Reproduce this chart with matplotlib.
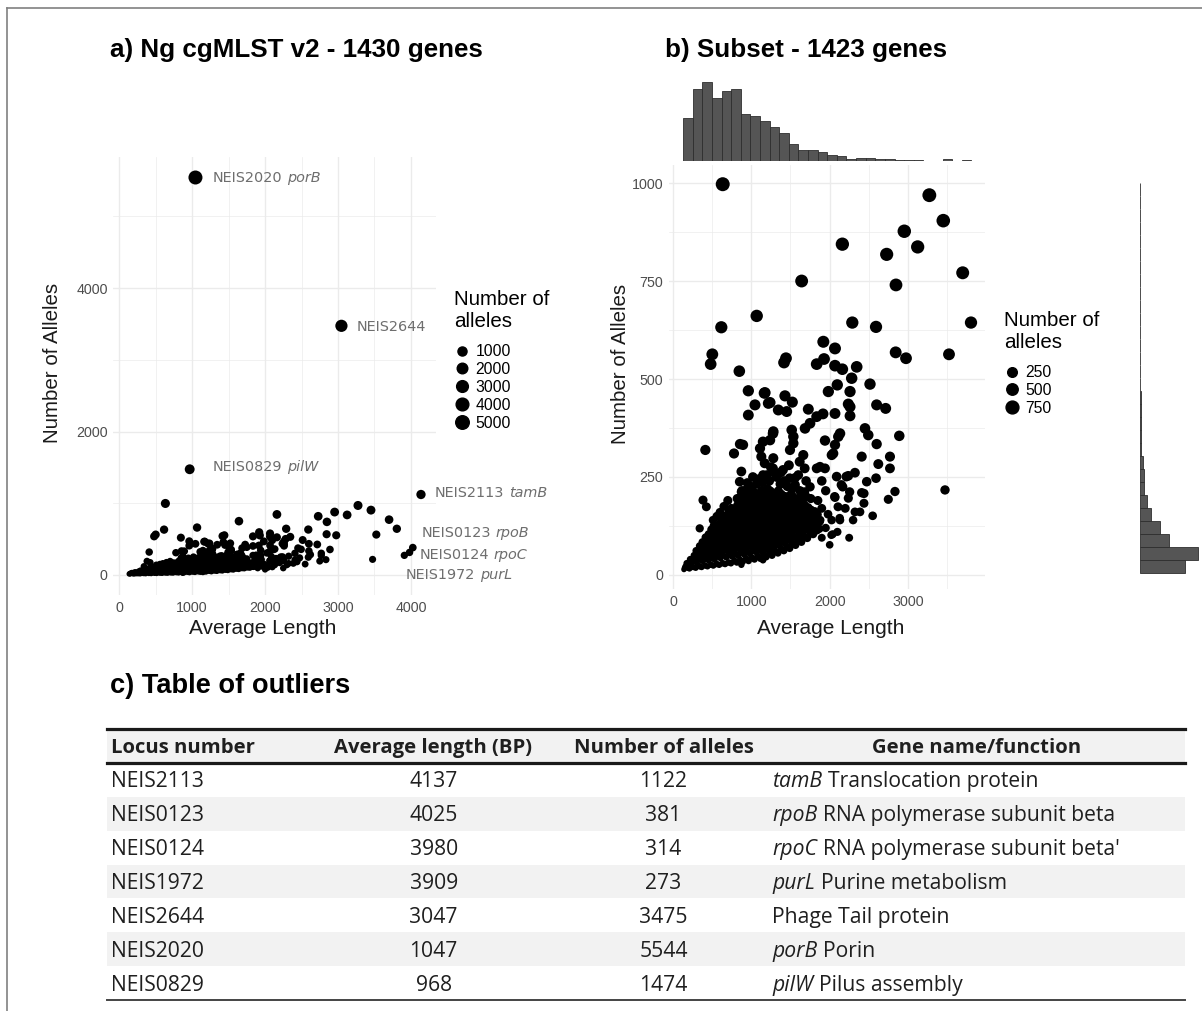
import numpy as np
import matplotlib
matplotlib.use('Agg')
import matplotlib.pyplot as plt
from matplotlib.lines import Line2D

plt.rcParams['font.family'] = ['Liberation Sans', 'DejaVu Sans']

# ---- outliers (table c) ----
out_locus = ['NEIS2113', 'NEIS0123', 'NEIS0124', 'NEIS1972', 'NEIS2644', 'NEIS2020', 'NEIS0829']
out_len = [4137, 4025, 3980, 3909, 3047, 1047, 968]
out_alleles = [1122, 381, 314, 273, 3475, 5544, 1474]
out_gene = ['tamB', 'rpoB', 'rpoC', 'purL', '', 'porB', 'pilW']
out_function = ['Translocation protein', 'RNA polymerase subunit beta',
                "RNA polymerase subunit beta'", 'Purine metabolism',
                'Phage Tail protein', 'Porin', 'Pilus assembly']

# ---- subset genes, average length ----
sub_len = [
    140, 160, 175, 150,
    210, 230, 220, 240,
    290, 300, 310, 295, 320,
    365, 380, 370, 385, 375,
    440, 455, 450, 460, 445, 455,
    515, 530, 520, 535, 525, 530, 520,
    590, 605, 600, 610, 595, 605, 600,
    665, 680, 670, 685, 675, 680, 670, 685,
    740, 755, 750, 760, 745, 755, 750, 760, 745,
    815, 830, 820, 835, 825, 830, 820, 835, 825,
    890, 905, 900, 910, 895, 905, 900, 910, 895, 905,
    965, 980, 970, 985, 975, 980, 970, 985, 975, 980,
    1040, 1055, 1050, 1060, 1045, 1055, 1050, 1060, 1045, 1055,
    1115, 1130, 1120, 1135, 1125, 1130, 1120, 1135, 1125, 1130,
    1190, 1205, 1200, 1210, 1195, 1205, 1200, 1210, 1195, 1205,
    1265, 1280, 1270, 1285, 1275, 1280, 1270, 1285, 1275,
    1340, 1355, 1350, 1360, 1345, 1355, 1350, 1360, 1345,
    1415, 1430, 1420, 1435, 1425, 1430, 1420, 1435,
    1490, 1505, 1500, 1510, 1495, 1505, 1500, 1510,
    1565, 1580, 1570, 1585, 1575, 1580, 1570,
    1640, 1655, 1650, 1660, 1645, 1655,
    1715, 1730, 1720, 1735, 1725,
    1790, 1805, 1800, 1810,
    1870, 1880,
    # between the columns above
    190, 195,
    265, 260, 270,
    340, 335, 345, 340,
    410, 415, 405, 410, 415,
    485, 480, 490, 485, 480, 490,
    560, 565, 555, 560, 565, 555,
    635, 630, 640, 635, 630, 640, 635,
    710, 715, 705, 710, 715, 705, 710, 715,
    785, 780, 790, 785, 780, 790, 785, 780,
    860, 865, 855, 860, 865, 855, 860, 865, 855,
    935, 930, 940, 935, 930, 940, 935, 930, 940,
    1010, 1015, 1005, 1010, 1015, 1005, 1010, 1015, 1005,
    1085, 1080, 1090, 1085, 1080, 1090, 1085, 1080, 1090,
    1160, 1165, 1155, 1160, 1165, 1155, 1160, 1165, 1155,
    1235, 1230, 1240, 1235, 1230, 1240, 1235, 1230, 1240,
    1310, 1315, 1305, 1310, 1315, 1305, 1310, 1315,
    1385, 1380, 1390, 1385, 1380, 1390, 1385, 1380,
    1460, 1465, 1455, 1460, 1465, 1455, 1460,
    1535, 1530, 1540, 1535, 1530, 1540, 1535,
    1610, 1615, 1605, 1610, 1615, 1605,
    1685, 1680, 1690, 1685, 1680,
    1760, 1765, 1755, 1760,
    1840, 1835, 1845,
    # fringe of the dense cloud
    820, 880, 940, 1010, 1070, 1140, 1230, 1290, 1370, 1460, 1530, 1620,
    1680, 1760, 1380, 1250, 1150, 1480, 1560, 1640,
    1950, 2100, 2200, 2300, 1900, 2250,
    # high
    635, 3274, 3452, 2954, 3125, 2163, 2729, 3700, 2848, 1643, 1069, 617,
    2290, 2593, 3806, 1920, 2069, 502, 481, 847, 2844, 2976, 3525, 1443,
    1418, 1835, 1929, 2069, 2163, 2346, 2282, 2516, 2098,
    # middle
    1984, 2261, 1175, 1430, 1524, 1239, 1345, 1728, 2239, 2601, 2716, 2069,
    2261, 1835, 1916, 1750, 1686, 1516, 1537, 1537, 1494, 1281, 1239, 2133,
    2111, 1941, 2069, 2452, 2494, 2890, 2601, 2027, 2410, 2771, 1664, 2622,
    2771, 1877, 962, 962, 1166, 1047, 1452, 1218, 413, 779, 894, 856,
    1149, 1277, 1128, 1171, 1277, 1405, 1618, 1682, 1281, 1111, 1835, 1941,
    2047, 2261,
    # lower
    2090, 2239, 2324, 2593, 2474, 3474, 2835, 2410, 2167, 2214, 2150, 2256,
    2065, 2107, 2129, 1767, 1873, 1831, 2022, 2001, 2039, 1801, 2026, 2133,
    2324, 2388, 2550, 2439, 2439, 2239, 2069, 2750, 383, 426, 341, 511,
    873, 851, 873, 1490, 1000, 1086, 1149, 873,
    950, 1020, 1100, 1200, 1320, 1420, 1560, 1600, 1700, 1750, 1900, 1950,
    1850, 1700, 1900, 1980, 600, 650, 700, 560,
]

# ---- subset genes, number of alleles ----
sub_alleles = [
    14, 22, 30, 18,
    16, 28, 40, 20,
    18, 33, 48, 62, 25,
    20, 36, 52, 68, 84,
    22, 38, 55, 72, 90, 104,
    24, 40, 58, 75, 92, 110, 125,
    26, 44, 62, 80, 98, 115, 132,
    28, 46, 64, 82, 100, 118, 136, 152,
    30, 48, 66, 84, 102, 120, 138, 156, 170,
    32, 50, 70, 88, 106, 124, 142, 160, 178,
    34, 54, 72, 90, 110, 128, 146, 164, 182, 198,
    36, 56, 76, 94, 112, 132, 150, 168, 186, 204,
    40, 60, 80, 98, 118, 136, 156, 174, 192, 208,
    42, 62, 82, 102, 122, 140, 160, 178, 198, 214,
    46, 66, 86, 106, 126, 146, 164, 184, 202, 220,
    50, 70, 90, 110, 130, 150, 170, 190, 208,
    56, 76, 96, 116, 136, 156, 176, 196, 214,
    62, 82, 102, 122, 142, 162, 182, 200,
    68, 88, 108, 128, 148, 168, 188, 206,
    76, 96, 116, 136, 156, 176, 194,
    84, 104, 124, 144, 164, 184,
    94, 114, 134, 154, 172,
    104, 124, 144, 162,
    118, 140,
    # between the columns above
    18, 30,
    20, 36, 50,
    22, 40, 58, 74,
    24, 44, 62, 80, 96,
    26, 48, 66, 84, 100, 116,
    28, 50, 70, 88, 106, 122,
    30, 52, 72, 90, 108, 126, 144,
    32, 56, 74, 92, 112, 128, 146, 162,
    36, 58, 78, 96, 114, 132, 150, 168,
    38, 60, 80, 98, 116, 134, 152, 170, 188,
    42, 64, 84, 102, 120, 140, 158, 176, 192,
    44, 68, 88, 108, 126, 146, 164, 182, 200,
    48, 70, 90, 110, 130, 148, 168, 186, 204,
    52, 74, 94, 114, 134, 152, 172, 190, 208,
    56, 78, 98, 118, 138, 158, 178, 196, 214,
    60, 82, 102, 122, 142, 162, 182, 200,
    66, 88, 108, 128, 148, 168, 188, 206,
    72, 94, 114, 134, 154, 174, 194,
    80, 100, 120, 140, 160, 180, 198,
    88, 108, 128, 148, 168, 188,
    96, 118, 138, 158, 178,
    106, 126, 146, 166,
    114, 134, 154,
    # fringe of the dense cloud
    195, 215, 218, 225, 232, 236, 240, 262, 232, 226, 222, 215,
    212, 195, 262, 275, 255, 280, 248, 205,
    120, 110, 170, 140, 95, 95,
    # high
    997, 969, 904, 877, 837, 844, 818, 771, 740, 750, 661, 632,
    644, 633, 644, 595, 578, 563, 538, 520, 568, 553, 563, 553,
    542, 538, 551, 534, 525, 531, 502, 487, 485,
    # middle
    468, 468, 465, 457, 441, 440, 421, 423, 436, 434, 425, 412,
    406, 404, 411, 387, 374, 370, 353, 336, 319, 366, 344, 361,
    353, 343, 332, 374, 357, 355, 334, 306, 302, 302, 306, 283,
    272, 276, 470, 408, 464, 434, 417, 438, 319, 310, 332, 334,
    340, 361, 302, 285, 272, 268, 289, 272, 298, 323, 272, 272,
    310, 429,
    # lower
    251, 253, 261, 247, 238, 217, 213, 210, 225, 251, 230, 212,
    200, 174, 145, 149, 136, 115, 102, 77, 104, 110, 140, 140,
    161, 161, 151, 183, 208, 196, 198, 193, 191, 174, 119, 140,
    264, 238, 212, 247, 191, 166, 38, 26,
    235, 250, 245, 255, 250, 240, 230, 255, 240, 225, 240, 215,
    190, 200, 170, 155, 160, 175, 190, 150,
]

# marginal histograms of the 1423 subset genes (30 bins each)
len_hist_counts = [91, 152, 168, 134, 148, 152, 100, 95, 84, 72, 59, 37, 23, 23, 19,
                   12, 10, 5, 7, 6, 4, 4, 2, 2, 2, 1, 1, 4, 1, 3]
allele_hist_counts = [329, 427, 215, 151, 78, 49, 29, 29, 20, 10, 7, 6, 5, 4, 3,
                      3, 2, 2, 2, 1, 2, 1, 1, 1, 0, 1, 1, 1, 0, 1]

legend_a = [1000, 2000, 3000, 4000, 5000]
legend_b = [250, 500, 750]

# where the outlier labels sit in panel a (data units)
label_pos = {'NEIS2020': (1288, 5537), 'NEIS2644': (3260, 3459),
             'NEIS0829': (1288, 1506), 'NEIS2113': (4329, 1144),
             'NEIS0123': (4151, 586), 'NEIS0124': (4123, 279),
             'NEIS1972': (3932, 0)}

W, H = 1202, 1011
fig = plt.figure(figsize=(W / 100, H / 100), dpi=100)

GRID = '#ebebeb'
TICK = '#4d4d4d'
TITLE = '#1a1a1a'


def diam(v, vmin, vmax, d0=5.5, d1=14.0):
    v = np.asarray(v, float)
    return d0 + (d1 - d0) * np.sqrt(np.clip((v - vmin) / (vmax - vmin), 0, 1))


def area(v, vmin, vmax):
    return (diam(v, vmin, vmax) * 0.72) ** 2


def two_part(ax, x, y, first, second, first_style, second_style, gap=3.0, **kw):
    t = ax.text(x, y, first, style=first_style, **kw)
    if second:
        kw2 = {k: v for k, v in kw.items() if k not in ('ha', 'va', 'transform')}
        ax.annotate(second, xy=(1, 0), xycoords=t, xytext=(gap, 0),
                    textcoords='offset points', ha='left', va='bottom',
                    style=second_style, **kw2)
    return t


def style_axes(ax):
    for s in ax.spines.values():
        s.set_visible(False)
    ax.tick_params(which='both', length=0, labelsize=10.3, labelcolor=TICK, pad=4)
    ax.grid(True, which='major', color=GRID, lw=1.0)
    ax.grid(True, which='minor', color=GRID, lw=0.5)
    ax.set_axisbelow(True)


def size_legend(ax, values, vmin, vmax, x, y_title, y_keys):
    fig.text(x / W, 1 - y_title / H, 'Number of\nalleles', fontsize=14.8,
             ha='left', va='top', linespacing=1.2, color='black')
    handles = [Line2D([], [], ls='', marker='o', color='black',
                      markersize=d * 0.72) for d in diam(values, vmin, vmax)]
    ax.legend(handles, [str(v) for v in values], loc='upper left',
              bbox_to_anchor=(x / W, 1 - y_keys / H),
              bbox_transform=fig.transFigure, frameon=False, fontsize=11.3,
              handlelength=1.0, handletextpad=0.38, labelspacing=0.19,
              borderpad=0, borderaxespad=0)


# ---------------- panel a ----------------
all_len = list(sub_len) + out_len
all_alleles = list(sub_alleles) + out_alleles
amin, amax = min(all_alleles), max(all_alleles)

ax_a = fig.add_axes([113.2 / W, 1 - 595 / H, 322.6 / W, 438 / H])
ax_a.scatter(all_len, all_alleles, s=area(all_alleles, amin, amax), c='black',
             linewidths=0, zorder=3)
ax_a.set_xlim(-80, 4340)
ax_a.set_ylim(-280, 5830)
ax_a.set_xticks([0, 1000, 2000, 3000, 4000])
ax_a.set_xticks([500, 1500, 2500, 3500], minor=True)
ax_a.set_yticks([0, 2000, 4000])
ax_a.set_yticks([1000, 3000, 5000], minor=True)
style_axes(ax_a)
ax_a.set_xlabel('Average Length', fontsize=15, color=TITLE)
ax_a.set_ylabel('Number of Alleles', fontsize=14.8, color=TITLE)
ax_a.xaxis.set_label_coords((263 - 113.2) / 322.6, (595 - 628) / 438)
ax_a.yaxis.set_label_coords((53 - 113.2) / 322.6, (595 - 363) / 438)
for s in (ax_a.xaxis.label, ax_a.yaxis.label):
    s.set_va('center')
for loc, gene in zip(out_locus, out_gene):
    lx, ly = label_pos[loc]
    two_part(ax_a, lx, ly, loc, gene, 'normal', 'italic', gap=3.2,
             ha='left', va='center', fontsize=10.4, color='#6e6e6e',
             family='DejaVu Sans')
size_legend(ax_a, legend_a, amin, amax, 454, 290, 344)
fig.text(110 / W, 1 - 50 / H, 'a) Ng cgMLST v2 - 1430 genes', fontsize=18.7,
         weight='bold', ha='left', va='center')

# ---------------- panel b ----------------
bmin, bmax = min(sub_alleles), max(sub_alleles)
ax_b = fig.add_axes([668.7 / W, 1 - 589.1 / H, 316.7 / W, 424.1 / H])
ax_b.scatter(sub_len, sub_alleles, s=area(sub_alleles, bmin, bmax), c='black',
             linewidths=0, zorder=3)
ax_b.set_xlim(-55, 3990)
ax_b.set_ylim(-36, 1046)
ax_b.set_xticks([0, 1000, 2000, 3000])
ax_b.set_xticks([500, 1500, 2500, 3500], minor=True)
ax_b.set_yticks([0, 250, 500, 750, 1000])
ax_b.set_yticks([125, 375, 625, 875], minor=True)
style_axes(ax_b)
ax_b.set_xlabel('Average Length', fontsize=15, color=TITLE)
ax_b.set_ylabel('Number of Alleles', fontsize=14.8, color=TITLE)
ax_b.xaxis.set_label_coords((831 - 668.7) / 316.7, (589.1 - 628) / 424.1)
ax_b.yaxis.set_label_coords((620 - 668.7) / 316.7, (589.1 - 364) / 424.1)
for s in (ax_b.xaxis.label, ax_b.yaxis.label):
    s.set_va('center')
size_legend(ax_b, legend_b, bmin, bmax, 1004, 311, 365)
fig.text(665 / W, 1 - 50 / H, 'b) Subset - 1423 genes', fontsize=18.7,
         weight='bold', ha='left', va='center')

# marginal histograms
len_edges = 130 + 122.7 * np.arange(len(len_hist_counts) + 1)
ax_top = fig.add_axes([668.7 / W, 1 - 161 / H, 316.7 / W, 81 / H])
ax_top.bar(len_edges[:-1], len_hist_counts, width=np.diff(len_edges), align='edge',
           color='#555555', edgecolor='#2e2e2e', lw=0.6)
ax_top.set_xlim(ax_b.get_xlim())
ax_top.set_ylim(0, 172)
ax_top.axis('off')

al_edges = 5 + 33.2 * np.arange(len(allele_hist_counts) + 1)
ax_right = fig.add_axes([1140 / W, 1 - 589.1 / H, 60 / W, 424.1 / H])
ax_right.barh(al_edges[:-1], allele_hist_counts, height=np.diff(al_edges), align='edge',
              color='#555555', edgecolor='#2e2e2e', lw=0.6)
ax_right.set_ylim(ax_b.get_ylim())
ax_right.set_xlim(0, 442)
ax_right.axis('off')

# ---------------- table c ----------------
fig.text(110 / W, 1 - 686 / H, 'c) Table of outliers', fontsize=19.6,
         weight='bold', ha='left', va='center')

ax_t = fig.add_axes([107 / W, 1 - 1000 / H, 1078 / W, 271 / H])
n_rows = len(out_locus)
ax_t.set_xlim(0, 1)
ax_t.set_ylim(n_rows + 1, 0)
ax_t.axis('off')
ax_t.axhspan(0, 1, color='#f2f2f2', lw=0)
for i in range(1, n_rows, 2):
    ax_t.axhspan(1 + i, 2 + i, color='#f2f2f2', lw=0)
ax_t.axhline(0, color='#1a1a1a', lw=2.3, clip_on=False)
ax_t.axhline(1, color='#1a1a1a', lw=2.3, clip_on=False)
ax_t.axhline(n_rows + 1, color='#444444', lw=1.4, clip_on=False)

tfont = dict(family=['Open Sans', 'DejaVu Sans'], fontsize=15.2, color='#1f1f1f')
headers = ['Locus number', 'Average length (BP)', 'Number of alleles', 'Gene name/function']
head_x = [0.0037, 0.3020, 0.5162, 0.8066]
head_ha = ['left', 'center', 'center', 'center']
for h, hx, ha in zip(headers, head_x, head_ha):
    ax_t.text(hx, 0.56, h, ha=ha, va='center', weight='bold',
              **{**tfont, 'fontsize': 14.6})

for i in range(n_rows):
    yc = 1.56 + i
    ax_t.text(0.0037, yc, out_locus[i], ha='left', va='center', **tfont)
    ax_t.text(0.3030, yc, str(out_len[i]), ha='center', va='center', **tfont)
    ax_t.text(0.5162, yc, str(out_alleles[i]), ha='center', va='center', **tfont)
    if out_gene[i]:
        two_part(ax_t, 0.6169, yc, out_gene[i], out_function[i], 'italic', 'normal',
                 gap=4.2, ha='left', va='center', **tfont)
    else:
        ax_t.text(0.6169, yc, out_function[i], ha='left', va='center', **tfont)

# frame of the pasted figure
fig.add_artist(Line2D([6.5 / W, 6.5 / W], [0, 1 - 8 / H], transform=fig.transFigure,
                      color='#808080', lw=1.2))
fig.add_artist(Line2D([6.5 / W, 1], [1 - 8 / H, 1 - 8 / H], transform=fig.transFigure,
                      color='#808080', lw=1.2))

fig.savefig('out.png', dpi=100)
